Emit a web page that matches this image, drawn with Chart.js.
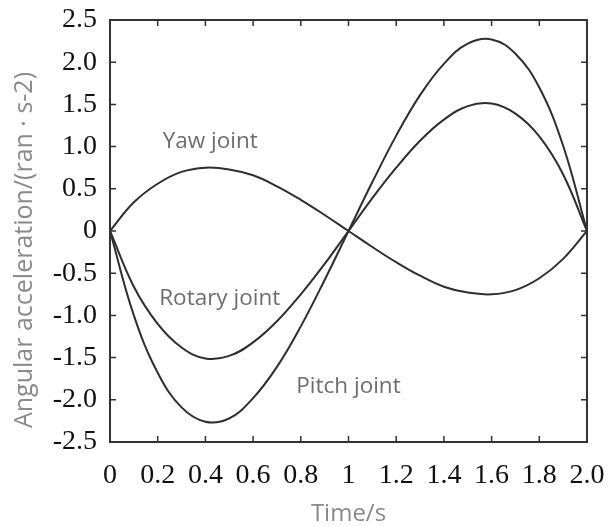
<!DOCTYPE html>
<html lang="en">
<head>
<meta charset="UTF-8">
<title>Angular acceleration</title>
<style>
    html, body { margin: 0; padding: 0; background: #fff; }
    #wrap { width: 613px; height: 526px; }
</style>
</head>
<body>
<div id="wrap"><canvas id="accChart" width="613" height="526"></canvas></div>
<script src="https://cdn.jsdelivr.net/npm/chart.js"></script>
<script>
// values, every 0.1 s
const times  = [0, 0.1, 0.2, 0.3, 0.4, 0.5, 0.6, 0.7, 0.8, 0.9, 1.0, 1.1, 1.2, 1.3, 1.4, 1.5, 1.6, 1.7, 1.8, 1.9, 2.0];
const pitch  = [0, -1.00, -1.68, -2.09, -2.26, -2.22, -1.98, -1.61, -1.13, -0.58, 0, 0.58, 1.13, 1.61, 1.98, 2.22, 2.27, 2.10, 1.70, 1.01, 0];
const rotary = [0, -0.66, -1.10, -1.38, -1.51, -1.48, -1.32, -1.07, -0.75, -0.39, 0, 0.39, 0.75, 1.07, 1.32, 1.48, 1.51, 1.39, 1.12, 0.67, 0];
const yaw    = [0, 0.34, 0.56, 0.70, 0.75, 0.73, 0.66, 0.53, 0.37, 0.19, 0, -0.19, -0.37, -0.53, -0.66, -0.73, -0.75, -0.70, -0.56, -0.33, 0];

const xTickLabels = ['0', '0.2', '0.4', '0.6', '0.8', '1', '1.2', '1.4', '1.6', '1.8', '2.0'];
const yTickLabels = ['-2.5', '-2.0', '-1.5', '-1.0', '-0.5', '0', '0.5', '1.0', '1.5', '2.0', '2.5'];

const yTitle = 'Angular acceleration/(ran · s-2)';

// curve names placed at data coordinates
const curveNotes = [
    { text: 'Yaw joint', x: 0.42, y: 1.06 },
    { text: 'Rotary joint', x: 0.46, y: -0.80 },
    { text: 'Pitch joint', x: 1.00, y: -1.84 }
];

const lineColor = '#2e2e2e';
const titleColor = '#8a8a8a';
const toPoints = vals => vals.map((v, i) => ({ x: times[i], y: v }));

// frame round the plot area, inward ticks on all four sides, curve names, y title
const framePlugin = {
    id: 'frame',
    afterDatasetsDraw(chart) {
        const { ctx, chartArea: a, scales } = chart;
        const len = 6;
        ctx.save();
        ctx.strokeStyle = '#333';
        ctx.lineWidth = 1.5;
        ctx.beginPath();
        scales.x.ticks.forEach(t => {
            const px = scales.x.getPixelForValue(t.value);
            if (px <= a.left + 1 || px >= a.right - 1) return;
            ctx.moveTo(px, a.bottom); ctx.lineTo(px, a.bottom - len);
            ctx.moveTo(px, a.top); ctx.lineTo(px, a.top + len);
        });
        scales.y.ticks.forEach(t => {
            const py = scales.y.getPixelForValue(t.value);
            if (py <= a.top + 1 || py >= a.bottom - 1) return;
            ctx.moveTo(a.left, py); ctx.lineTo(a.left + len, py);
            ctx.moveTo(a.right, py); ctx.lineTo(a.right - len, py);
        });
        ctx.stroke();
        ctx.lineWidth = 2;
        ctx.strokeRect(a.left, a.top, a.right - a.left, a.bottom - a.top);

        ctx.fillStyle = '#6e6e6e';
        ctx.font = '22.5px "Open Sans", sans-serif';
        ctx.textAlign = 'center';
        ctx.textBaseline = 'middle';
        curveNotes.forEach(n => {
            ctx.fillText(n.text, scales.x.getPixelForValue(n.x), scales.y.getPixelForValue(n.y));
        });

        // y axis title sits a little below the middle of the axis in the reference
        ctx.fillStyle = titleColor;
        ctx.font = '25px "Open Sans", sans-serif';
        ctx.translate(25, a.top + (a.bottom - a.top) * 0.545);
        ctx.rotate(-Math.PI / 2);
        ctx.fillText(yTitle, 0, 0);
        ctx.restore();
    }
};

const tickFont = { family: '"Liberation Serif", "Times New Roman", serif', size: 28 };

new Chart(document.getElementById('accChart').getContext('2d'), {
    type: 'line',
    data: {
        datasets: [
            { label: 'Pitch joint', data: toPoints(pitch) },
            { label: 'Rotary joint', data: toPoints(rotary) },
            { label: 'Yaw joint', data: toPoints(yaw) }
        ].map(d => Object.assign(d, {
            borderColor: lineColor,
            borderWidth: 2,
            pointRadius: 0,
            fill: false,
            tension: 0.4
        }))
    },
    options: {
        responsive: false,
        animation: false,
        layout: { padding: { top: 20, right: 26, left: 0, bottom: 0 } },
        plugins: {
            legend: { display: false },
            tooltip: { enabled: false }
        },
        scales: {
            x: {
                type: 'linear',
                min: 0, max: 2,
                afterFit: s => { s.height = 84; s.paddingLeft = 0; s.paddingRight = 0; },
                grid: { display: false, drawTicks: false },
                border: { display: false },
                ticks: {
                    stepSize: 0.2,
                    padding: 17,
                    color: '#111',
                    font: tickFont,
                    maxRotation: 0,
                    autoSkip: false,
                    callback: (v, i) => xTickLabels[i]
                },
                title: {
                    display: true,
                    text: 'Time/s',
                    color: titleColor,
                    font: { family: '"Open Sans", sans-serif', size: 24, lineHeight: 1 },
                    padding: { top: 0, bottom: 0 }
                }
            },
            y: {
                type: 'linear',
                min: -2.5, max: 2.5,
                afterFit: s => { s.width = 110; s.paddingTop = 0; s.paddingBottom = 0; },
                grid: { display: false, drawTicks: false },
                border: { display: false },
                ticks: {
                    stepSize: 0.5,
                    padding: 13,
                    color: '#111',
                    font: tickFont,
                    autoSkip: false,
                    callback: (v, i) => yTickLabels[i]
                }
            }
        }
    },
    plugins: [framePlugin]
});
</script>
</body>
</html>
